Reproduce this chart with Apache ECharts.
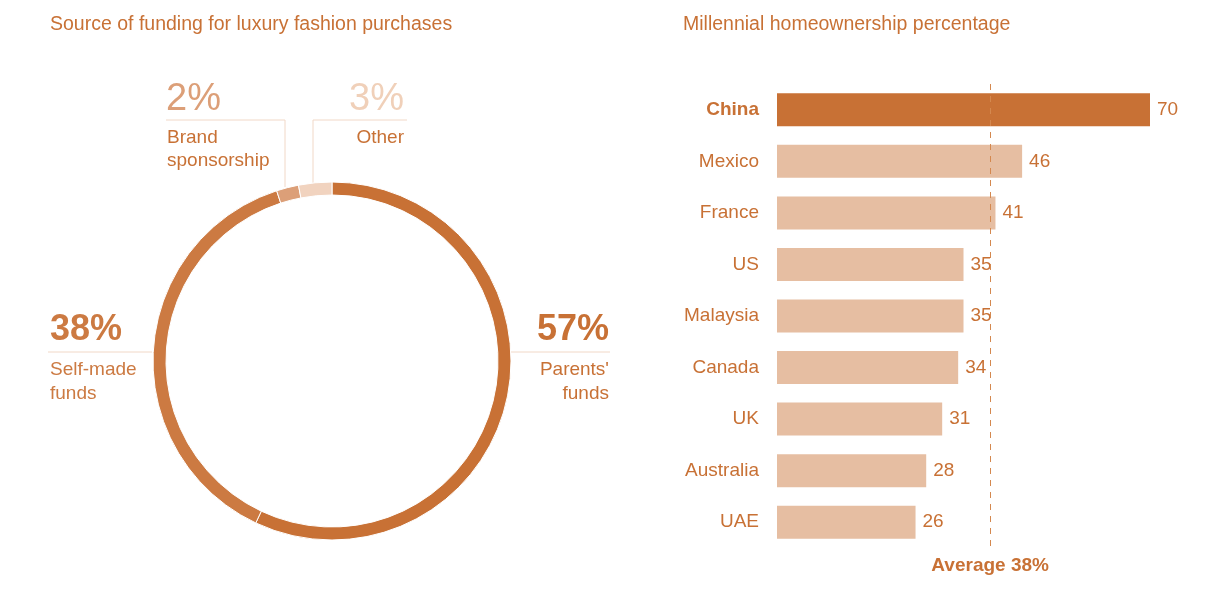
<!DOCTYPE html>
<html>
<head>
<meta charset="utf-8">
<script src="https://cdn.jsdelivr.net/npm/echarts@6/dist/echarts.min.js"></script>
<style>
  html, body { margin: 0; padding: 0; background: #fff; }
  #chart { width: 1209px; height: 590px; }
</style>
</head>
<body>
<div id="chart"></div>
<script>
// funding donut
const fundingNames = ["Parents' funds", 'Self-made funds', 'Brand sponsorship', 'Other']
const fundingShares = [57, 38, 2, 3]
const fundingColors = ['#c87135', '#cc7a42', '#dc9f78', '#f1d3bf']

// homeownership bars
const countries = ['China', 'Mexico', 'France', 'US', 'Malaysia', 'Canada', 'UK', 'Australia', 'UAE']
const ownership = [70, 46, 41, 35, 35, 34, 31, 28, 26]
const averageValue = 38
const averageLinePos = 40 // where the dashed line sits in the picture

const DARK = '#c87135'
const LIGHT = '#e6bea2'
const RULE = '#f1d8c7'
const FONT = '"Liberation Sans", Arial, sans-serif'
const FS = 19

const chart = echarts.init(document.getElementById('chart'))

function txt(x, y, text, opt) {
  return {
    type: 'text',
    x: x,
    y: y,
    silent: true,
    style: Object.assign({
      text: text,
      fill: DARK,
      fontFamily: FONT,
      fontSize: FS,
      verticalAlign: 'middle'
    }, opt || {})
  }
}

function rule(points) {
  return {
    type: 'polyline',
    silent: true,
    shape: { points: points },
    style: { stroke: RULE, lineWidth: 1, fill: null }
  }
}

chart.setOption({
  animation: false,
  textStyle: { fontFamily: FONT },
  title: [
    {
      text: 'Source of funding for luxury fashion purchases',
      left: 50,
      top: 15,
      padding: 0,
      textStyle: { color: DARK, fontSize: 19.5, fontWeight: 'normal', fontFamily: FONT }
    },
    {
      text: 'Millennial homeownership percentage',
      left: 683,
      top: 15,
      padding: 0,
      textStyle: { color: DARK, fontSize: 19.5, fontWeight: 'normal', fontFamily: FONT }
    }
  ],
  grid: {
    left: 777,
    width: 373,
    top: 84,
    height: 464
  },
  xAxis: {
    type: 'value',
    min: 0,
    max: 70,
    show: false
  },
  yAxis: {
    type: 'category',
    data: countries,
    inverse: true,
    axisLine: { show: false },
    axisTick: { show: false },
    axisLabel: {
      margin: 18,
      color: DARK,
      fontSize: FS,
      fontFamily: FONT,
      formatter: (v, i) => (i === 0 ? '{hi|' + v + '}' : v),
      rich: {
        hi: { fontWeight: 'bold', fontSize: FS, color: DARK, fontFamily: FONT }
      }
    }
  },
  series: [
    {
      type: 'pie',
      center: [332, 361],
      radius: [166, 179],
      startAngle: 90,
      clockwise: true,
      silent: true,
      label: { show: false },
      labelLine: { show: false },
      itemStyle: { borderColor: '#fff', borderWidth: 1 },
      data: fundingNames.map((n, i) => ({
        name: n,
        value: fundingShares[i],
        itemStyle: { color: fundingColors[i] }
      }))
    },
    {
      type: 'bar',
      barWidth: 33,
      silent: true,
      data: ownership.map((v, i) => ({
        value: v,
        itemStyle: { color: i === 0 ? DARK : LIGHT }
      })),
      label: {
        show: true,
        position: 'right',
        distance: 7,
        color: DARK,
        fontSize: FS,
        fontFamily: FONT
      },
      markLine: {
        silent: true,
        symbol: 'none',
        lineStyle: { color: '#d4884f', type: [6, 6], width: 1 },
        label: {
          show: true,
          position: 'end',
          distance: 8,
          formatter: 'Average ' + averageValue + '%',
          color: DARK,
          fontSize: FS,
          fontWeight: 'bold',
          fontFamily: FONT
        },
        data: [{ xAxis: averageLinePos }]
      }
    }
  ],
  graphic: [
    // left / right leader rules
    rule([[48, 352], [152, 352]]),
    rule([[511, 352], [610, 352]]),
    rule([[166, 120], [285, 120], [285, 187]]),
    rule([[407, 120], [313, 120], [313, 183]]),

    // Self-made
    txt(50, 330, fundingShares[1] + '%', { fontSize: 36, fontWeight: 'bold', fill: '#cc7a42' }),
    txt(50, 370, 'Self-made', { fill: '#cc7a42' }),
    txt(50, 394, 'funds', { fill: '#cc7a42' }),

    // Parents'
    txt(609, 330, fundingShares[0] + '%', { fontSize: 36, fontWeight: 'bold', align: 'right' }),
    txt(609, 370, "Parents'", { align: 'right' }),
    txt(609, 394, 'funds', { align: 'right' }),

    // Brand sponsorship
    txt(166, 100, fundingShares[2] + '%', { fontSize: 38, fill: '#dc9f78' }),
    txt(167, 138, 'Brand'),
    txt(167, 161, 'sponsorship'),

    // Other
    txt(404, 100, fundingShares[3] + '%', { fontSize: 38, fill: '#f0d0b9', align: 'right' }),
    txt(404, 138, 'Other', { align: 'right' })
  ]
})
</script>
</body>
</html>
